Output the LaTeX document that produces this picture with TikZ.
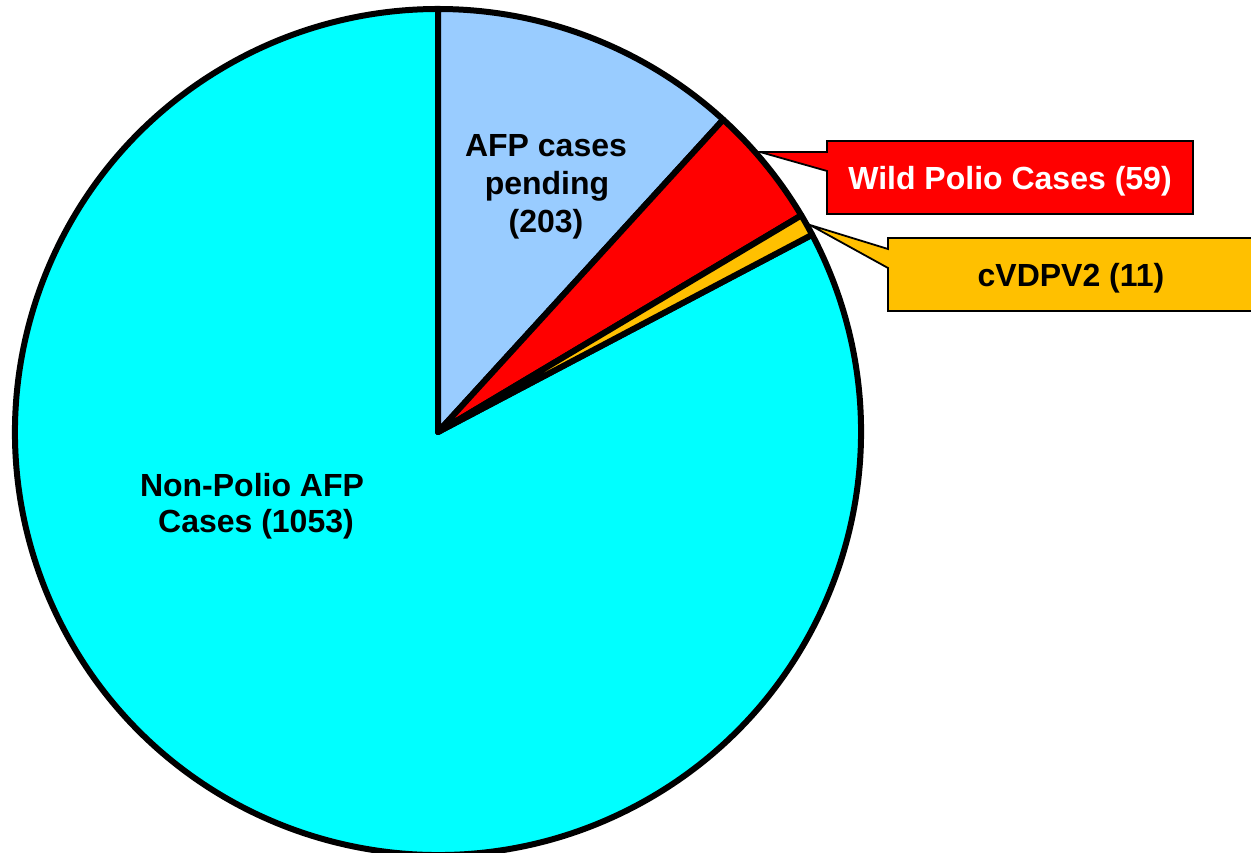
\documentclass[tikz,border=0pt]{standalone}
\usepackage{fontspec}
\setmainfont{Liberation Sans}
\definecolor{cyanS}{RGB}{0,255,255}
\definecolor{blueS}{RGB}{153,204,255}
\definecolor{redS}{RGB}{255,0,0}
\definecolor{yelS}{RGB}{255,192,0}
\begin{document}
\begin{tikzpicture}[x=1pt,y=1pt,
  slice/.style={draw=black,line width=6pt,line join=round},
  callout/.style={draw=black,line width=1.8pt,line join=miter},
  lbl/.style={font=\fontsize{32}{38}\selectfont\bfseries,inner sep=0pt,anchor=base}]
\useasboundingbox (0,0) rectangle (1251,853);
\fill[white] (0,0) rectangle (1251,853);
\coordinate (c) at (438,421);
% callouts (behind pie)
\coordinate (wtip) at (760,701);
\coordinate (ytip) at (810,628);
\draw[callout,fill=redS] (827,712) -- (1193,712) -- (1193,639) -- (827,639) -- (827,682) -- (wtip) -- (827,701) -- cycle;
\draw[callout,fill=yelS] (888,615) -- (1262,615) -- (1262,542) -- (888,542) -- (888,585) -- (ytip) -- (888,604) -- cycle;
% pie slices
\draw[slice,fill=cyanS] (c) -- ++(27.8:423) arc[start angle=27.8,end angle=-270,radius=423] -- cycle;
\draw[slice,fill=blueS] (c) -- ++(47.6:423) arc[start angle=47.6,end angle=90,radius=423] -- cycle;
\draw[slice,fill=redS] (c) -- ++(30.8:423) arc[start angle=30.8,end angle=47.6,radius=423] -- cycle;
\draw[slice,fill=yelS] (c) -- ++(27.8:423) arc[start angle=27.8,end angle=30.8,radius=423] -- cycle;
% labels
\node[lbl] (np1) at (252,356) {Non-Polio AFP};
\node[lbl] (np2) at (256,320) {Cases (1053)};
\node[lbl] (pd1) at (546,696) {AFP cases};
\node[lbl] (pd2) at (547,658) {pending};
\node[lbl] (pd3) at (546,620) {(203)};
\node[lbl,text=white] (wp) at (1010,663) {Wild Polio Cases (59)};
\node[lbl] (cv) at (1071,566) {cVDPV2 (11)};
\end{tikzpicture}
\end{document}
